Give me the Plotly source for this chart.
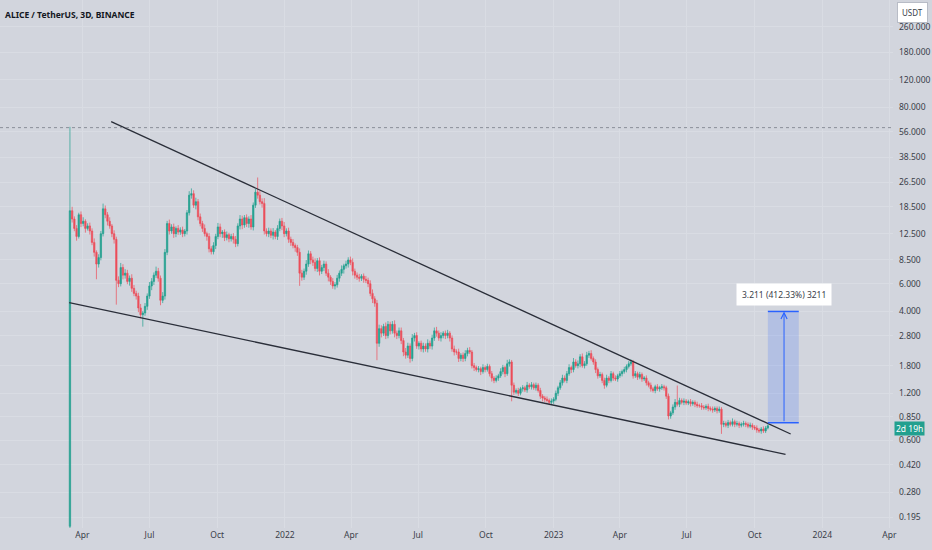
import numpy as np
import pandas as pd
import plotly.graph_objects as go

# 3D candles, ALICE/USDT on Binance
first_open = 0.17
closes = [
    17.5, 15.5, 13.5, 12.0, 16.5, 14.5, 15.0, 13.5, 14.0, 13.0,
    11.0, 9.5, 8.0, 8.8, 12.5, 18.0, 16.5, 15.0, 14.0, 12.5,
    11.5, 6.3, 6.0, 7.6, 6.8, 7.0, 6.2, 6.5, 5.6, 5.2,
    5.0, 4.2, 3.8, 3.9, 4.3, 5.0, 5.8, 6.2, 6.8, 7.2,
    6.5, 4.7, 5.0, 9.5, 14.5, 13.0, 13.8, 12.5, 13.5, 12.8,
    13.2, 12.5, 13.0, 17.0, 22.0, 22.5, 19.0, 20.0, 16.0, 14.5,
    13.5, 12.5, 12.0, 10.0, 9.6, 10.5, 12.0, 13.8, 12.5, 12.8,
    11.8, 12.3, 11.6, 12.0, 11.5, 10.8, 14.0, 15.5, 14.2, 15.8,
    14.5, 15.5, 13.8, 19.0, 23.0, 22.0, 20.0, 19.5, 13.0, 12.5,
    13.0, 12.2, 12.8, 12.0, 13.5, 15.0, 14.0, 12.5, 13.0, 11.5,
    11.0, 10.5, 10.2, 9.5, 7.0, 6.6, 7.2, 8.0, 9.3, 8.5,
    8.2, 7.5, 8.4, 7.2, 7.6, 8.0, 7.0, 6.6, 6.2, 5.8,
    5.9, 6.5, 7.0, 7.4, 7.8, 8.0, 8.5, 8.2, 7.2, 6.8,
    6.6, 6.5, 6.7, 6.4, 6.3, 6.0, 5.2, 4.8, 4.5, 2.5,
    3.1, 2.9, 3.2, 2.8, 3.3, 3.0, 3.3, 2.9, 2.8, 3.0,
    2.6, 2.2, 2.1, 2.4, 2.0, 2.7, 2.8, 2.4, 2.5, 2.3,
    2.4, 2.3, 2.5, 2.4, 2.7, 3.0, 2.9, 2.7, 2.8, 2.9,
    2.8, 2.9, 2.7, 2.3, 2.2, 2.2, 2.0, 2.1, 2.0, 2.15,
    2.25, 2.2, 1.8, 1.75, 1.7, 1.72, 1.65, 1.75, 1.7, 1.78,
    1.6, 1.5, 1.45, 1.5, 1.55, 1.65, 1.75, 1.6, 1.85, 1.9,
    1.35, 1.22, 1.25, 1.2, 1.28, 1.3, 1.26, 1.35, 1.32, 1.36,
    1.3, 1.35, 1.25, 1.15, 1.12, 1.1, 1.08, 1.05, 1.07, 1.1,
    1.2, 1.3, 1.4, 1.5, 1.45, 1.6, 1.75, 1.7, 1.9, 1.8,
    1.85, 2.05, 1.8, 1.85, 2.1, 2.15, 2.0, 1.9, 1.7, 1.55,
    1.58, 1.45, 1.35, 1.5, 1.45, 1.6, 1.5, 1.48, 1.55, 1.6,
    1.65, 1.7, 1.78, 1.85, 1.9, 1.55, 1.6, 1.52, 1.58, 1.48,
    1.5, 1.4, 1.35, 1.28, 1.25, 1.32, 1.28, 1.3, 1.32, 1.3,
    1.15, 0.86, 0.9, 0.98, 1.05, 1.02, 1.08, 1.05, 1.07, 1.04,
    1.06, 1.03, 1.05, 1.02, 1.0, 1.0, 0.98, 0.97, 0.99, 0.96,
    0.95, 0.94, 0.96, 0.93, 0.95, 0.76, 0.77, 0.75, 0.78, 0.76,
    0.79, 0.76, 0.77, 0.75, 0.76, 0.77, 0.76, 0.74, 0.75, 0.73,
    0.72, 0.70, 0.69, 0.71, 0.69, 0.72, 0.745,
]
# wick length above / below the body, in percent
upper_wick = [
    243, 6, 4, 5, 3, 5, 6, 3, 4, 5, 4, 6, 3, 5, 4, 8, 5, 4, 6, 3,
    5, 4, 6, 7, 5, 6, 5, 4, 6, 5, 4, 5, 6, 3, 5, 4, 6, 5, 4, 7,
    5, 4, 6, 5, 4, 6, 4, 5, 3, 5, 4, 5, 3, 4, 6, 8, 5, 6, 4, 5,
    4, 6, 3, 5, 4, 5, 4, 6, 5, 3, 4, 5, 3, 4, 5, 5, 4, 6, 5, 4,
    5, 4, 6, 4, 5, 24, 6, 5, 8, 4, 5, 4, 6, 3, 5, 4, 5, 6, 4, 5,
    4, 5, 3, 4, 6, 5, 4, 6, 5, 4, 5, 6, 4, 5, 4, 5, 4, 6, 3, 5,
    4, 5, 4, 6, 3, 5, 4, 5, 6, 4, 4, 5, 3, 4, 5, 4, 5, 6, 4, 5,
    6, 5, 4, 6, 5, 4, 5, 6, 4, 5, 5, 4, 6, 5, 4, 6, 4, 5, 3, 4,
    5, 4, 6, 4, 5, 5, 6, 4, 5, 3, 4, 5, 3, 4, 5, 4, 5, 3, 4, 5,
    4, 5, 3, 4, 3, 4, 3, 5, 3, 4, 3, 4, 3, 4, 3, 5, 4, 3, 6, 4,
    3, 4, 3, 4, 3, 4, 3, 5, 3, 4, 3, 4, 3, 4, 3, 3, 4, 3, 4, 3,
    4, 3, 4, 5, 4, 4, 5, 3, 6, 4, 5, 4, 5, 4, 5, 4, 5, 3, 4, 3,
    4, 3, 4, 5, 3, 4, 3, 4, 3, 4, 3, 4, 3, 4, 4, 3, 4, 3, 4, 3,
    3, 4, 3, 4, 3, 3, 4, 3, 4, 3, 3, 4, 3, 4, 5, 28, 4, 3, 4, 3,
    3, 4, 3, 3, 4, 3, 4, 3, 3, 4, 3, 4, 3, 3, 4, 3, 4, 3, 4, 3,
    5, 3, 4, 3, 3, 4, 3, 3, 4, 3, 3, 4, 3, 3, 4, 3, 2,
]
lower_wick = [
    6, 5, 4, 6, 3, 5, 4, 6, 3, 5, 4, 6, 20, 5, 4, 4, 5, 6, 4, 5,
    6, 30, 5, 4, 6, 5, 4, 6, 5, 4, 5, 6, 5, 16, 4, 5, 4, 6, 5, 4,
    5, 7, 4, 5, 4, 5, 4, 6, 5, 4, 4, 5, 4, 5, 4, 5, 4, 6, 5, 4,
    5, 4, 6, 5, 4, 4, 5, 4, 5, 6, 5, 4, 5, 4, 6, 5, 4, 5, 6, 4,
    5, 6, 4, 5, 4, 5, 4, 6, 5, 4, 5, 4, 6, 4, 5, 4, 6, 5, 4, 5,
    5, 4, 6, 5, 17, 5, 4, 5, 4, 6, 5, 4, 5, 6, 4, 5, 4, 6, 5, 4,
    5, 4, 5, 4, 6, 4, 5, 4, 6, 5, 4, 5, 4, 5, 4, 5, 4, 6, 5, 22,
    5, 6, 4, 5, 4, 5, 4, 6, 5, 4, 5, 6, 5, 4, 6, 4, 5, 4, 5, 4,
    5, 4, 5, 4, 5, 4, 5, 4, 5, 4, 5, 4, 5, 4, 5, 4, 5, 4, 5, 4,
    4, 3, 4, 5, 3, 4, 5, 3, 4, 3, 4, 5, 4, 3, 4, 3, 4, 5, 3, 4,
    21, 4, 3, 4, 3, 4, 3, 4, 3, 4, 3, 4, 3, 4, 5, 4, 3, 4, 3, 4,
    3, 4, 3, 4, 3, 4, 3, 5, 4, 3, 4, 5, 3, 4, 3, 4, 3, 4, 5, 4,
    3, 4, 5, 3, 4, 3, 4, 3, 4, 3, 4, 3, 4, 3, 3, 4, 3, 4, 3, 4,
    3, 4, 3, 4, 3, 4, 3, 4, 3, 4, 4, 5, 4, 3, 4, 3, 4, 3, 4, 3,
    3, 4, 3, 4, 3, 3, 4, 3, 3, 4, 3, 4, 3, 4, 3, 13, 4, 3, 4, 3,
    3, 4, 3, 4, 3, 3, 4, 3, 3, 4, 3, 4, 3, 4, 3, 3, 2,
]

dates = pd.date_range("2021-03-15", periods=len(closes), freq="3D")
opens = [first_open] + closes[:-1]
highs = [max(o, c) * (1 + u / 100) for o, c, u in zip(opens, closes, upper_wick)]
lows = [min(o, c) * (1 - w / 100) for o, c, w in zip(opens, closes, lower_wick)]

# drawings on the chart
wedge_top_x = ["2021-05-10", "2023-11-19"]
wedge_top_y = [64.7, 0.66]
wedge_bot_x = ["2021-03-14", "2023-11-12"]
wedge_bot_y = [4.54, 0.49]
high_line = 59.3
measure_x = ["2023-10-19", "2023-11-30"]
measure_mid = "2023-11-10"
measure_y = [0.7787, 3.9897]
measure_txt = "3.211 (412.33%) 3211"
countdown_y = 0.717

tick_prices = [260, 180, 120, 80, 56, 38.5, 26.5, 18.5, 12.5, 8.5, 6, 4, 2.8,
               1.8, 1.2, 0.85, 0.6, 0.42, 0.28, 0.195]
tick_labels = ["%.3f" % p for p in tick_prices]
month_ticks = ["2021-04-01", "2021-07-01", "2021-10-01", "2022-01-01", "2022-04-01",
               "2022-07-01", "2022-10-01", "2023-01-01", "2023-04-01", "2023-07-01",
               "2023-10-01", "2024-01-01", "2024-04-01"]
month_labels = ["Apr", "Jul", "Oct", "2022", "Apr", "Jul", "Oct", "2023", "Apr",
                "Jul", "Oct", "2024", "Apr"]

bg = "#d2d5dd"
grid = "#d9dce3"
txt = "#3a3e49"
blue = "#2962ff"
font = "Noto Sans"

fig = go.Figure()
fig.add_trace(go.Candlestick(
    x=dates, open=opens, high=highs, low=lows, close=closes,
    increasing=dict(line=dict(color="#22a08f", width=0.7), fillcolor="#22a08f"),
    decreasing=dict(line=dict(color="#ec4e5a", width=0.7), fillcolor="#ec4e5a"),
    whiskerwidth=0, showlegend=False, hoverinfo="skip"))

for xs, ys in [(wedge_top_x, wedge_top_y), (wedge_bot_x, wedge_bot_y)]:
    fig.add_trace(go.Scatter(x=xs, y=ys, mode="lines",
                             line=dict(color="#2a2e39", width=1.3),
                             showlegend=False, hoverinfo="skip"))

ly = np.log10
# dotted high line (shapes take plain prices on the log axis)
fig.add_shape(type="line", xref="paper", x0=0, x1=1, yref="y",
              y0=high_line, y1=high_line,
              line=dict(color="#8a8e99", width=1, dash="dot"))
# measuring tool
fig.add_shape(type="rect", xref="x", yref="y", x0=measure_x[0], x1=measure_x[1],
              y0=measure_y[0], y1=measure_y[1],
              fillcolor="rgba(41,98,255,0.18)", line=dict(width=0))
for yv in measure_y:
    fig.add_shape(type="line", xref="x", yref="y", x0=measure_x[0], x1=measure_x[1],
                  y0=yv, y1=yv, line=dict(color=blue, width=1.5))
fig.add_annotation(x=measure_mid, y=ly(measure_y[1]), ax=measure_mid, ay=ly(measure_y[0]),
                   xref="x", yref="y", axref="x", ayref="y", text="",
                   showarrow=True, arrowhead=5, arrowsize=1.2, arrowwidth=1,
                   arrowcolor=blue)
fig.add_annotation(x=measure_mid, y=ly(5.15), xref="x", yref="y", text=measure_txt,
                   showarrow=False, bgcolor="white", borderpad=5,
                   font=dict(size=8.5, color=txt, family=font))

# title and right-side labels
fig.add_annotation(xref="paper", yref="paper", x=0, y=1, xshift=3, yshift=-7,
                   xanchor="left", yanchor="top", showarrow=False,
                   text="<b>ALICE / TetherUS, 3D, BINANCE</b>",
                   font=dict(size=8.5, color="#131722", family=font))
fig.add_annotation(xref="paper", yref="paper", x=1, y=1, xshift=4, yshift=-2,
                   xanchor="left", yanchor="top", showarrow=False, text="USDT",
                   bgcolor="white", bordercolor="#b8bcc6", borderwidth=1, borderpad=4,
                   font=dict(size=8, color=txt, family=font))
fig.add_annotation(xref="paper", yref="y", x=1, y=ly(countdown_y), xshift=1,
                   xanchor="left", showarrow=False, text="2d 19h",
                   bgcolor="#22a08f", borderpad=1,
                   font=dict(size=8.5, color="white", family=font))

fig.update_layout(
    width=932, height=550,
    margin=dict(l=0, r=39, t=0, b=22),
    paper_bgcolor=bg, plot_bgcolor=bg,
    boxgap=0.12,
    xaxis=dict(type="date", range=["2020-12-10", "2024-04-06"],
               rangeslider=dict(visible=False),
               tickvals=month_ticks, ticktext=month_labels,
               showgrid=True, gridcolor=grid, zeroline=False, showline=False,
               ticks="", tickfont=dict(size=8.5, color=txt, family=font)),
    yaxis=dict(type="log", side="right", range=[-0.780, 2.587],
               tickvals=tick_prices, ticktext=tick_labels,
               showgrid=True, gridcolor=grid, zeroline=False, showline=False,
               ticks="", ticklabelstandoff=5,
               tickfont=dict(size=8.5, color=txt, family=font)),
    showlegend=False,
)

fig.write_html("out.html", config={"displayModeBar": False},
               post_script="document.body.style.margin='0px';")
